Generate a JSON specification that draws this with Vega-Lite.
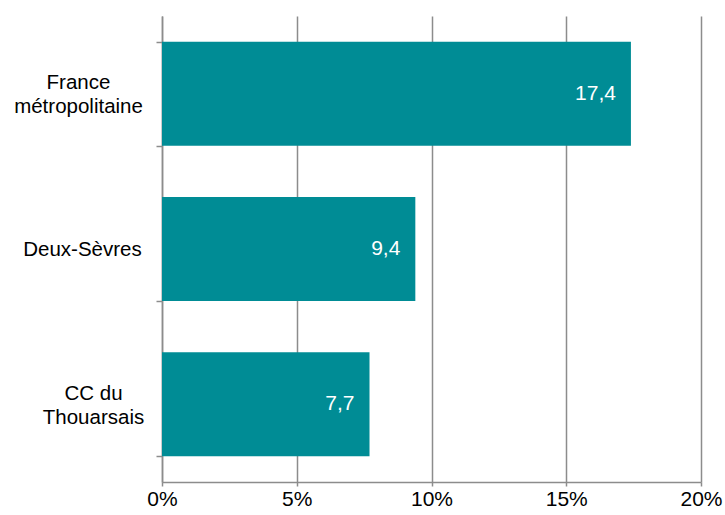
{
  "$schema": "https://vega.github.io/schema/vega-lite/v6.json",
  "width": 539,
  "height": 466,
  "autosize": {"type": "none"},
  "padding": {"left": 162, "top": 16, "right": 24, "bottom": 33},
  "background": "white",
  "config": {"view": {"stroke": null}, "font": "Liberation Sans"},
  "data": {"values": [
    {"territoire": "France|métropolitaine", "valeur": 17.4, "label": "17,4"},
    {"territoire": "Deux-Sèvres", "valeur": 9.4, "label": "9,4"},
    {"territoire": "CC du|Thouarsais", "valeur": 7.7, "label": "7,7"}
  ]},
  "encoding": {
    "y": {
      "field": "territoire", "type": "nominal", "sort": null, "title": null,
      "scale": {"paddingInner": 0.33, "paddingOuter": 0.165},
      "axis": {
        "labelExpr": "split(datum.label, '|')",
        "labelAlign": "center",
        "labelPadding": {"condition": [
          {"test": "datum.value == 'CC du|Thouarsais'", "value": 63},
          {"test": "datum.value == 'Deux-Sèvres'", "value": 74}
        ], "value": 78},
        "labelOffset": {"condition": {"test": "datum.value == 'Deux-Sèvres'", "value": 0}, "value": -11},
        "labelFontSize": 20.5, "labelColor": "#000000",
        "labelLineHeight": 24, "tickBand": "extent", "tickSize": 6, "tickColor": "#8c8c8c", "tickWidth": 1.5,
        "domainColor": "#8c8c8c", "domainWidth": 1.5, "grid": false
      }
    },
    "x": {
      "field": "valeur", "type": "quantitative", "title": null,
      "scale": {"domain": [0, 20]},
      "axis": {
        "values": [0, 5, 10, 15, 20], "labelExpr": "datum.value + '%'",
        "labelFontSize": 21, "labelColor": "#000000", "labelPadding": 2, "tickSize": 4,
        "tickColor": "#8c8c8c", "tickWidth": 1.5, "domainColor": "#8c8c8c", "domainWidth": 1.5,
        "grid": true, "gridColor": "#8c8c8c", "gridWidth": 1.5, "labelFlush": false
      }
    }
  },
  "layer": [
    {"mark": {"type": "bar", "color": "#008c95"}},
    {"mark": {"type": "text", "align": "right", "dx": -15, "color": "white", "fontSize": 21, "baseline": "middle"},
     "encoding": {"text": {"field": "label"}}}
  ]
}
